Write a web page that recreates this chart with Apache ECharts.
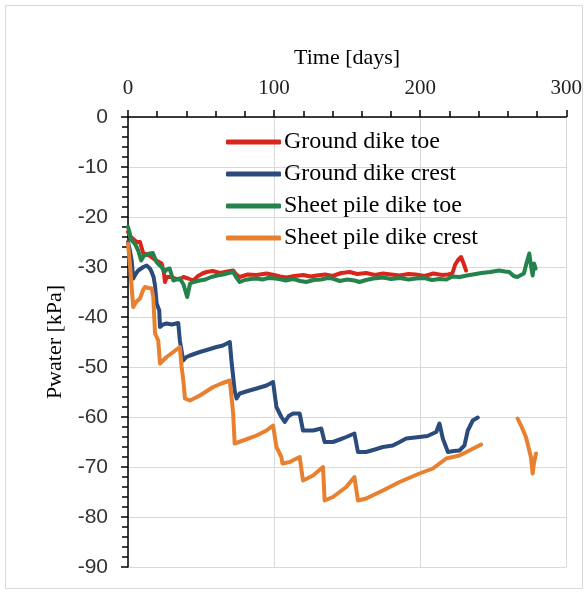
<!DOCTYPE html>
<html>
<head>
<meta charset="utf-8">
<script src="https://cdn.jsdelivr.net/npm/echarts@6/dist/echarts.min.js"></script>
<style>html,body{margin:0;padding:0;background:#fff}#c{width:585px;height:593px}</style>
</head>
<body>
<div id="c"></div>
<script>
var xTicks = [0, 100, 200, 300];
var seriesNames = ['Ground dike toe', 'Ground dike crest', 'Sheet pile dike toe', 'Sheet pile dike crest'];

var groundToeDays = [0, 2, 4, 6, 8.2, 10.5, 13, 15, 17.3, 20, 23, 24.5, 25.3, 26.5, 27.6, 30, 32, 35, 38, 41.2, 44.6, 48, 51, 53.8, 58, 63, 68, 72, 74, 76.5, 82, 88, 94.8, 100, 104, 108.4, 114, 120, 125, 129, 135, 140, 146, 151.7, 157, 163, 169, 174.5, 180, 186, 192, 197, 203, 209, 215, 219, 222, 224, 225.7, 228, 229, 230, 231.4];
var groundToeVals = [-23, -24, -24.5, -25, -25, -27.3, -27.5, -27.8, -28.3, -28.8, -29.3, -31, -33, -32, -31.7, -32, -32.3, -32.5, -32, -32.3, -32.7, -31.8, -31.3, -31, -30.8, -31.2, -30.9, -30.7, -31.5, -32, -31.5, -31.6, -31.3, -31.6, -31.9, -32.1, -31.8, -31.6, -31.9, -31.7, -31.5, -31.8, -31.2, -31, -31.4, -31.2, -31.6, -31.3, -31.5, -31.7, -31.4, -31.5, -31.8, -31.3, -31.6, -31.5, -31.3, -29.5, -28.7, -28, -28.2, -29.5, -30.7];

var groundCrestDays = [0, 1.5, 2.5, 3.6, 5, 7, 10.5, 12.7, 15, 16.2, 17.5, 18.5, 19.6, 21.4, 21.9, 24, 26.4, 30, 34.4, 35.5, 37.8, 40, 42.4, 49.2, 55, 60.6, 65, 69.7, 70.8, 73, 74.3, 76.5, 82, 88, 94.8, 99.3, 101.6, 105, 107.3, 110, 113, 117.5, 119.8, 126.7, 132.3, 134.6, 140.3, 145, 149.4, 155, 157.4, 163, 169, 174.5, 181.3, 186, 190.4, 199.5, 205, 208.7, 211, 213.2, 215.5, 219, 223, 226.9, 230.3, 232.6, 236, 239.4];
var groundCrestVals = [-25, -27, -28.7, -32.3, -31.5, -30.7, -30, -29.7, -30.3, -31, -32, -33.7, -37.3, -38.7, -42, -41.5, -41.3, -41.5, -41.2, -44.7, -48.7, -48, -47.7, -47, -46.5, -46, -45.7, -45, -48.7, -54.7, -56.3, -55.3, -54.8, -54.3, -53.7, -53, -58, -60, -61, -59.8, -59.3, -59.3, -62.7, -62.7, -62.3, -65, -65, -64.5, -64, -63.3, -67, -67, -66.5, -66, -65.7, -65, -64.3, -64, -63.8, -63.3, -63, -61.3, -64.3, -67, -66.8, -66.7, -65.7, -62.7, -60.7, -60.1];

var sheetToeDays = [0, 1, 2, 3.5, 5, 7, 9, 11, 13, 15, 17, 19.5, 21, 23, 25, 26.5, 28.5, 31, 33, 35.5, 38, 40.5, 42.5, 45, 49, 53, 57, 61, 65, 69, 72, 74, 76.5, 80, 84, 88, 92, 96, 101, 105, 108, 113, 118, 122, 127, 132, 137, 140, 145, 150, 155, 158.5, 163, 168, 174.5, 180, 186, 192, 197, 203, 208, 213, 218, 222, 227, 232, 236, 242, 248, 254, 258, 261, 264, 266.5, 269, 271, 273, 274.7, 276, 277, 278, 279];
var sheetToeVals = [-22, -23, -24.5, -25, -25.5, -26.7, -28.7, -27.7, -27.5, -27.3, -27.2, -29, -29.5, -30, -31, -30.5, -30.3, -32.7, -32.5, -32.3, -33.5, -36, -33.3, -33, -32.7, -32.5, -32, -31.7, -31.5, -31.2, -31, -32, -33, -32.6, -32.4, -32.3, -32.5, -32.2, -32.3, -32.5, -32.7, -32.4, -32.8, -33, -32.6, -32.5, -32.2, -32.3, -32.8, -32.5, -32.7, -33, -32.6, -32.3, -32.1, -32.4, -32.2, -32.5, -32.3, -32.2, -32.6, -32.4, -32.5, -31.9, -32, -31.7, -31.5, -31.2, -31, -30.7, -30.9, -31, -31.8, -32, -31.6, -31.3, -29, -27.3, -30, -31.7, -29.3, -30.3];

var sheetCrestDays = [0, 1.5, 2.5, 3.6, 5.5, 8.2, 10.5, 11.6, 14, 16.2, 17.3, 18.5, 20.7, 21.9, 24, 26.4, 31, 35.5, 36.7, 38, 39, 42.4, 49.2, 58.3, 64, 69.7, 72, 73, 78.8, 88, 94.8, 99.3, 101.6, 105, 105.7, 110.7, 117.5, 119.8, 126.7, 133.5, 134.6, 140.3, 149.4, 155, 157.4, 163, 174.5, 185.9, 199.5, 208.7, 217.8, 226.9, 233.7, 241.7, 250, 266.7, 269.5, 272.4, 275.8, 277, 278, 279.3];
var sheetCrestVals = [-25.3, -30, -34, -38, -37, -36.3, -34.5, -34, -34.2, -34.3, -36, -43.3, -44.7, -49.3, -48.7, -48, -47, -46, -50, -53, -56.3, -56.7, -55.7, -54, -53.3, -52.7, -59.3, -65.3, -64.7, -63.7, -62.7, -61.7, -66, -68, -69.3, -69, -68, -72.7, -71.7, -70, -76.7, -76, -74, -72, -76.7, -76.3, -74.7, -73, -71.3, -70.3, -68.3, -67.7, -66.7, -65.5, null, -60.3, -62, -64, -68, -71.3, -69, -67.3];

function pairs(d, v) { return d.map(function (x, i) { return [x, v[i]]; }); }

var colors = ['#d9261c', '#2a4b7c', '#23834a', '#e8802f'];
var allData = [
  pairs(groundToeDays, groundToeVals),
  pairs(groundCrestDays, groundCrestVals),
  pairs(sheetToeDays, sheetToeVals),
  pairs(sheetCrestDays, sheetCrestVals)
];

var chart = echarts.init(document.getElementById('c'), null, {renderer: 'canvas'});
chart.setOption({
  animation: false,
  backgroundColor: '#fff',
  graphic: [{
    type: 'rect', shape: {x: 5.5, y: 5.5, width: 577, height: 583},
    style: {fill: 'none', stroke: '#d9d9d9', lineWidth: 1}, silent: true, z: -10
  }],
  grid: {left: 128, right: 18, top: 117, bottom: 26, containLabel: false},
  legend: {
    orient: 'vertical', left: 221, top: 125, itemWidth: 55, itemHeight: 5, itemGap: 8,
    icon: 'roundRect',
    textStyle: {fontFamily: 'Liberation Serif', fontSize: 24, color: '#000', padding: [0, 0, 0, -2]},
    data: seriesNames
  },
  xAxis: {
    type: 'value', position: 'top', min: 0, max: 300, interval: 100,
    name: 'Time [days]', nameLocation: 'middle', nameGap: 48,
    nameTextStyle: {fontFamily: 'Liberation Serif', fontSize: 22, color: '#000'},
    axisLine: {show: true, onZero: false, lineStyle: {color: '#000', width: 1.5}},
    axisTick: {show: true, inside: false, length: 7, lineStyle: {color: '#000', width: 1.5}},
    minorTick: {show: true, splitNumber: 5, length: 6, lineStyle: {color: '#000', width: 1.5}},
    axisLabel: {fontFamily: 'Liberation Serif', fontSize: 21, color: '#222', margin: 18,
      formatter: function (v) { return xTicks.indexOf(v) >= 0 ? String(v) : ''; }},
    splitLine: {show: true, lineStyle: {color: '#d9d9d9', width: 1}}
  },
  yAxis: {
    type: 'value', min: -90, max: 0, interval: 10,
    name: 'Pwater [kPa]', nameLocation: 'middle', nameGap: 62,
    nameTextStyle: {fontFamily: 'Liberation Serif', fontSize: 22, color: '#000'},
    axisLine: {show: true, onZero: false, lineStyle: {color: '#000', width: 1.5}},
    axisTick: {show: true, inside: false, length: 7, lineStyle: {color: '#000', width: 1.5}},
    minorTick: {show: true, splitNumber: 5, length: 6, lineStyle: {color: '#000', width: 1.5}},
    axisLabel: {fontFamily: 'Liberation Sans', fontSize: 21, color: '#333', margin: 20},
    splitLine: {show: true, lineStyle: {color: '#d9d9d9', width: 1}}
  },
  series: seriesNames.map(function (n, i) {
    return {
      name: n, type: 'line', data: allData[i], showSymbol: false, symbol: 'none',
      connectNulls: false, color: colors[i],
      lineStyle: {color: colors[i], width: 4, join: 'round', cap: 'round'}
    };
  })
});
</script>
</body>
</html>
